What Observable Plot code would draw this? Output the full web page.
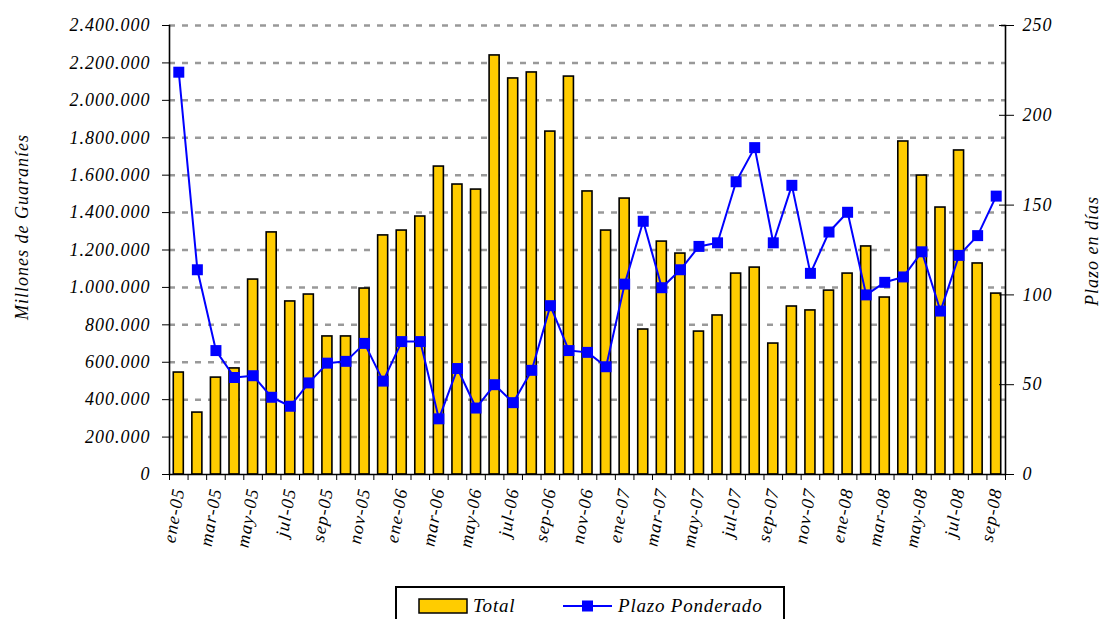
<!DOCTYPE html>
<html>
<head>
<meta charset="utf-8">
<script src="https://cdn.jsdelivr.net/npm/d3@7"></script>
<script src="https://cdn.jsdelivr.net/npm/@observablehq/plot@0.6"></script>
<style>
  html, body { margin: 0; padding: 0; background: white; overflow: hidden; width: 1101px; height: 619px; }
  #chart { position: absolute; left: 0; top: 0; }
  #legend {
    position: absolute; left: 395px; top: 586px; width: 390px; height: 40px;
    border: 2px solid black; box-sizing: border-box; background: white;
    font-family: "Liberation Serif", "DejaVu Serif", "Times New Roman", serif; font-style: italic; font-size: 19px;
    letter-spacing: 0.8px;
  }
  .lg-item { position: absolute; top: 7px; display: flex; align-items: center; }
</style>
</head>
<body>
<div id="chart"></div>
<div id="legend">
  <div class="lg-item" style="left:21px;">
    <svg width="52" height="18"><rect x="1" y="2" width="48" height="14" fill="#FFCC00" stroke="black" stroke-width="1.5"/></svg>
    <span style="margin-left:3px;">Total</span>
  </div>
  <div class="lg-item" style="left:165px;">
    <svg width="52" height="18"><line x1="1" y1="9" x2="50" y2="9" stroke="#0000FF" stroke-width="2"/><rect x="20" y="3.5" width="11" height="11" fill="#0000FF"/></svg>
    <span style="margin-left:4px;">Plazo Ponderado</span>
  </div>
</div>
<script>
const months = ["ene-05","feb-05","mar-05","abr-05","may-05","jun-05","jul-05","ago-05","sep-05","oct-05","nov-05","dic-05",
  "ene-06","feb-06","mar-06","abr-06","may-06","jun-06","jul-06","ago-06","sep-06","oct-06","nov-06","dic-06",
  "ene-07","feb-07","mar-07","abr-07","may-07","jun-07","jul-07","ago-07","sep-07","oct-07","nov-07","dic-07",
  "ene-08","feb-08","mar-08","abr-08","may-08","jun-08","jul-08","ago-08","sep-08"];
const total = [545000,331000,518000,567000,1042000,1294000,925000,962000,738000,738000,994000,1278000,
  1304000,1379000,1646000,1550000,1523000,2240000,2117000,2149000,1833000,2127000,1513000,1304000,
  1475000,775000,1245000,1181000,764000,850000,1074000,1106000,700000,898000,877000,983000,
  1074000,1219000,946000,1780000,1598000,1427000,1732000,1128000,967000];
const plazo = [224,114,69,54,55,43,38,51,62,63,73,52,
  74,74,31,59,37,50,40,58,94,69,68,60,
  106,141,104,114,127,129,163,182,129,161,112,135,
  146,100,107,110,124,91,122,133,155];
const leftTicks = [0,200000,400000,600000,800000,1000000,1200000,1400000,1600000,1800000,2000000,2200000,2400000];
const rightTicks = [0,50,100,150,200,250];
const labelTicks = months.filter((d, i) => i % 2 === 0);

const data = months.map((m, i) => ({month: m, total: total[i], plazo: plazo[i]}));
const k = 2400000 / 250; // right axis to left axis
const fmt = d3.formatLocale({decimal: ",", thousands: ".", grouping: [3], currency: ["", ""]}).format(",d");
const step = (1101 - 169 - 96) / months.length;
const FONT = "'Liberation Serif', 'DejaVu Serif', 'Times New Roman', serif";

const chart = Plot.plot({
  width: 1101,
  height: 580,
  marginLeft: 169,
  marginRight: 96,
  marginTop: 25,
  marginBottom: 106,
  style: {fontFamily: FONT, fontStyle: "italic", fontSize: "18px", letterSpacing: "1px", background: "white", color: "black"},
  x: {type: "band", domain: months, paddingInner: 0.46, paddingOuter: 0.23, round: false, label: null},
  y: {domain: [0, 2400000], label: null},
  marks: [
    Plot.ruleY(leftTicks.filter(d => d > 0), {stroke: "#999", strokeWidth: 2.5, strokeDasharray: "6,7"}),
    Plot.barY(data, {x: "month", y: "total", fill: "#FFCC00", stroke: "black", strokeWidth: 1.6}),
    Plot.line(data, {x: "month", y: d => d.plazo * k, stroke: "#0000FF", strokeWidth: 2}),
    Plot.dot(data, {x: "month", y: d => d.plazo * k, symbol: "square", r: 6.2, fill: "#0000FF", stroke: "none"}),
    Plot.ruleY([0], {stroke: "black", strokeWidth: 1.6}),
    Plot.frame({anchor: "left", stroke: "black", strokeWidth: 1.6}),
    Plot.frame({anchor: "right", stroke: "black", strokeWidth: 1.6}),
    Plot.axisY({ticks: leftTicks, tickFormat: fmt, tickSize: 7, tickPadding: 12, label: null, fontSize: 18}),
    Plot.axisY({anchor: "right", ticks: rightTicks.map(v => v * k), tickFormat: d => String(Math.round(d / k)), tickSize: 8, tickPadding: 9, label: null, fontSize: 18}),
    Plot.axisY({anchor: "right", ticks: rightTicks.map(v => v * k), tickFormat: () => "", tickSize: -7, label: null}),
    Plot.axisX({ticks: months, tickFormat: () => "", tickSize: 6, dx: -step / 2, label: null}),
    Plot.axisX({ticks: [months[months.length - 1]], tickFormat: () => "", tickSize: 6, dx: step / 2, label: null}),
    Plot.axisX({ticks: labelTicks, tickSize: 0, tickRotate: -80, tickPadding: 14, label: null, fontSize: 18}),
    Plot.text(["Millones de Guaraníes"], {frameAnchor: "left", textAnchor: "middle", dx: -147, dy: -23, rotate: -90, fontSize: 18}),
    Plot.text(["Plazo en días"], {frameAnchor: "right", textAnchor: "middle", dx: 87, dy: 1, rotate: -90, fontSize: 18})
  ]
});
document.getElementById("chart").appendChild(chart);
</script>
</body>
</html>
